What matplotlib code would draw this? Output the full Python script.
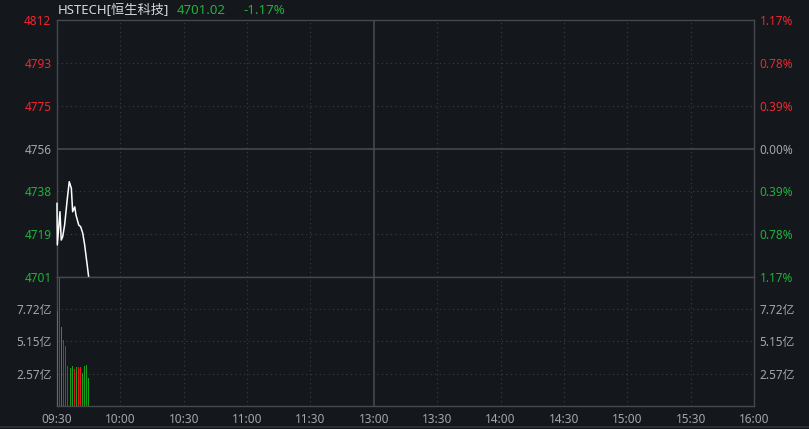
import numpy as np
import matplotlib
matplotlib.use("Agg")
import matplotlib.pyplot as plt

plt.rcParams['font.family'] = ['Noto Sans', 'Noto Sans CJK SC', 'DejaVu Sans']

# Data
prev_close = 4756.67
last_price = 4701.02
last_pct = "-1.17%"
price_min = [0, 0.15, 1.4, 2.0, 2.7, 3.6, 4.9, 5.8, 6.8, 7.4, 8.4, 9.0, 10.3, 11.2, 12.2, 13.1, 13.7, 14.3, 15.0]
price_val = [4732.9, 4714.9, 4729.3, 4717.0, 4718.5, 4723.5, 4735.1, 4742.3, 4739.4, 4729.3,
             4731.4, 4727.8, 4723.5, 4722.8, 4719.9, 4714.9, 4710.5, 4706.2, 4701.0]

vol_min = np.arange(17) * 0.91
vol_val = [7.6, 10.25, 6.3, 5.27, 4.8, 3.19, 3.09, 3.03, 3.19, 2.98, 3.14, 3.09, 3.14, 2.61, 3.19, 3.25, 2.24]
vol_up = [0, 1, 0, 1, 1, 1, 1, 0, 0, 1, 0, 1, 1, 0, 0, 0, 0]

time_ticks = [0, 30, 60, 90, 120, 150, 180, 210, 240, 270, 300, 330]
time_labels = ["09:30", "10:00", "10:30", "11:00", "11:30", "13:00", "13:30",
               "14:00", "14:30", "15:00", "15:30", "16:00"]

price_ticks = [4812.32, 4793.77, 4775.22, 4756.67, 4738.12, 4719.57, 4701.02]
price_labels = ["4812", "4793", "4775", "4756", "4738", "4719", "4701"]
pct_labels = ["1.17%", "0.78%", "0.39%", "0.00%", "0.39%", "0.78%", "1.17%"]
price_colors = ["up", "up", "up", "flat", "down", "down", "down"]

vol_ticks = [2.57, 5.15, 7.72]
vol_labels = ["2.57亿", "5.15亿", "7.72亿"]
vol_top = 10.29

# Style
BG = "#14171c"
FRAME = "#45484e"
GRID = "#3a3e45"
TXT = "#a3a7ad"
RED = "#f0262e"
GREEN = "#1fb33a"
BAR_RED = "#e0141a"
BAR_GREEN = "#14a01c"
cmap = {"up": RED, "down": GREEN, "flat": TXT}

W, H = 809, 429
fig = plt.figure(figsize=(W / 100, H / 100), dpi=100, facecolor=BG)

def px_axes(x0, y0, x1, y1):
    return fig.add_axes([x0 / W, 1 - y1 / H, (x1 - x0) / W, (y1 - y0) / H])

ax = px_axes(57, 20, 754, 277)
axv = px_axes(57, 277, 754, 406)

for a in (ax, axv):
    a.set_facecolor(BG)
    a.set_xlim(0, 330)
    for s in a.spines.values():
        s.set_color(FRAME)
        s.set_linewidth(1)
    a.tick_params(length=0, colors=TXT, labelsize=8.5)
    for t in time_ticks[1:-1]:
        if t == 150:
            a.axvline(t, color=FRAME, lw=1.2, zorder=1)
        else:
            a.axvline(t, color=GRID, lw=0.8, ls=(0, (1, 3)), zorder=1)

# price panel
ax.set_ylim(price_ticks[-1], price_ticks[0])
for v in price_ticks[1:-1]:
    if v == prev_close:
        ax.axhline(v, color=FRAME, lw=1.2, zorder=1)
    else:
        ax.axhline(v, color=GRID, lw=0.8, ls=(0, (1, 3)), zorder=1)
ax.plot(price_min, price_val, color="white", lw=1.1, zorder=3, clip_on=False)
ax.set_xticks([])
ax.set_yticks(price_ticks)
ax.set_yticklabels(price_labels)
ax.tick_params(axis="y", pad=4)
for lab, c in zip(ax.get_yticklabels(), price_colors):
    lab.set_color(cmap[c])

axr = ax.twinx()
axr.set_ylim(ax.get_ylim())
axr.set_yticks(price_ticks)
axr.set_yticklabels(pct_labels)
axr.tick_params(length=0, labelsize=8.5, pad=4)
for s in axr.spines.values():
    s.set_visible(False)
for lab, c in zip(axr.get_yticklabels(), price_colors):
    lab.set_color(cmap[c])

# volume panel
axv.set_ylim(0, vol_top)
for v in vol_ticks:
    axv.axhline(v, color=GRID, lw=0.8, ls=(0, (1, 3)), zorder=1)
bar_colors = [BAR_RED if u else BAR_GREEN for u in vol_up]
axv.bar(vol_min, vol_val, width=0.45, color=bar_colors, align="edge", zorder=3)
axv.set_xticks(time_ticks)
axv.set_xticklabels(time_labels)
axv.tick_params(axis="x", pad=5)
axv.set_yticks(vol_ticks)
axv.set_yticklabels(vol_labels)
axv.tick_params(axis="y", pad=4)

axvr = axv.twinx()
axvr.set_ylim(axv.get_ylim())
axvr.set_yticks(vol_ticks)
axvr.set_yticklabels(vol_labels)
axvr.tick_params(length=0, labelsize=8.5, colors=TXT, pad=4)
for s in axvr.spines.values():
    s.set_visible(False)

# header
fig.text(58 / W, 1 - 10 / H, "HSTECH[恒生科技]", color="#d5d9de", fontsize=9.5, va="center", ha="left")
fig.text(177 / W, 1 - 10 / H, f"{last_price:.2f}", color=GREEN, fontsize=9.5, va="center", ha="left")
fig.text(243 / W, 1 - 10 / H, last_pct, color=GREEN, fontsize=9.5, va="center", ha="left")

# bottom border
fig.add_artist(plt.Line2D([0, 1], [1 - 427 / H, 1 - 427 / H], color="#2a2d32", lw=1.5))

fig.savefig("out.png", dpi=100, facecolor=BG)
